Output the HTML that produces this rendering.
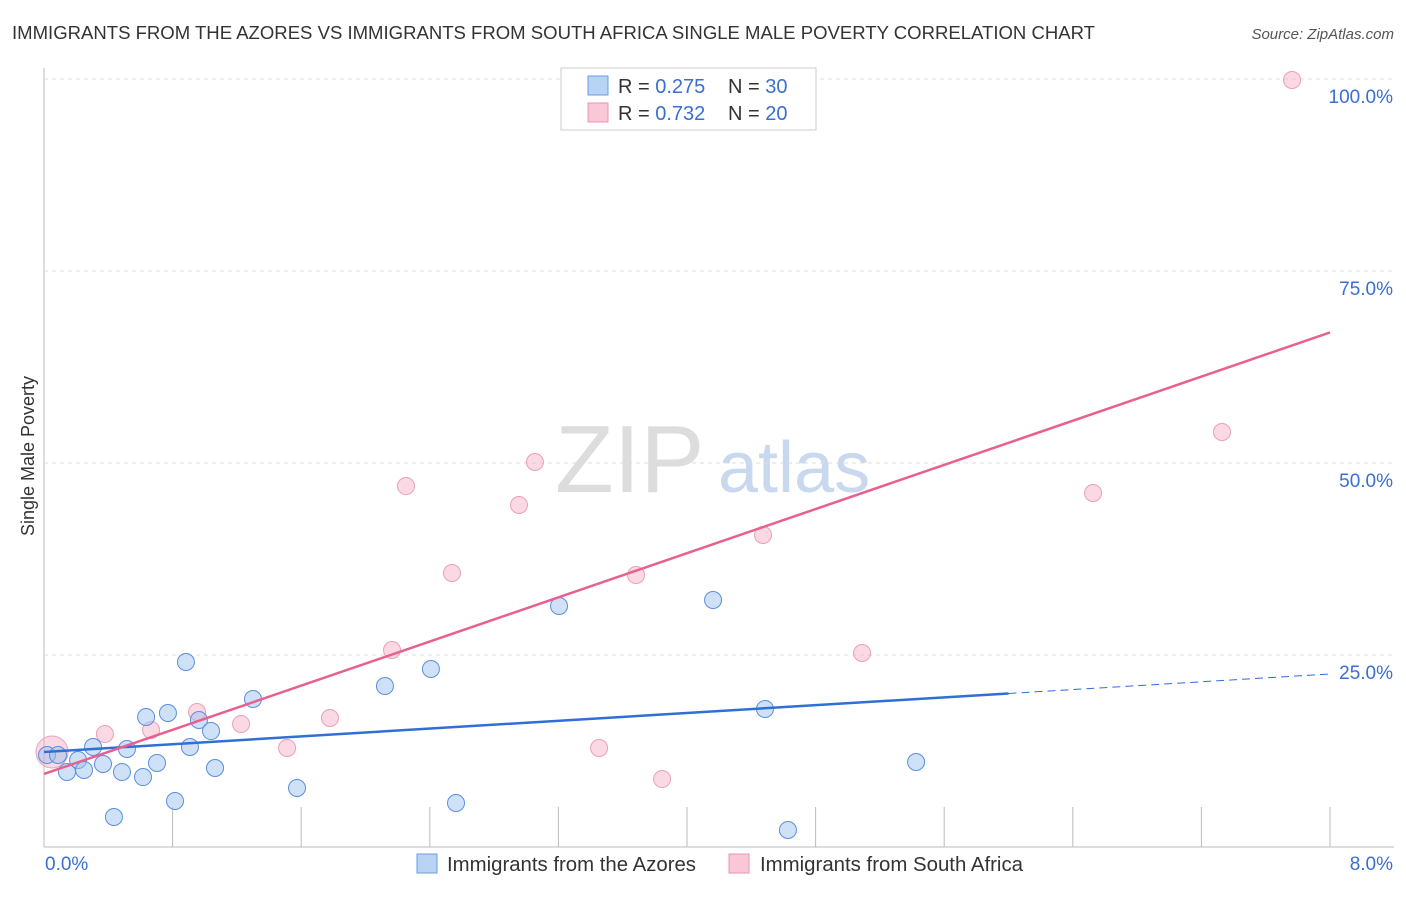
<!DOCTYPE html>
<html><head><meta charset="utf-8"><style>
body{margin:0;background:#fff;font-family:"Liberation Sans",sans-serif}
svg text{font-family:"Liberation Sans",sans-serif}
</style></head><body>
<svg id="c" width="1406" height="892">
<text x="12" y="39" font-size="18" fill="#333" textLength="1083" lengthAdjust="spacingAndGlyphs">IMMIGRANTS FROM THE AZORES VS IMMIGRANTS FROM SOUTH AFRICA SINGLE MALE POVERTY CORRELATION CHART</text>
<text x="1394" y="39" font-size="15" fill="#555" font-style="italic" text-anchor="end">Source: ZipAtlas.com</text>
<text x="34" y="456" font-size="18" fill="#333" text-anchor="middle" transform="rotate(-90 34 456)">Single Male Poverty</text>
<text x="555" y="492" font-size="96" fill="#ddd" font-family="Liberation Serif">ZIP</text>
<text x="718" y="492" font-size="72" fill="#c8d8ee">atlas</text>
<g id="grid"></g><g id="pts"></g><g id="lines"></g>
<rect x="561" y="68" width="255" height="62" fill="#fff" stroke="#ccc"/>
<rect x="588" y="76" width="20" height="19" fill="#b9d3f5" stroke="#6a9be0"/>
<rect x="588" y="103" width="20" height="19" fill="#f9c7d6" stroke="#e995ae"/>
<text x="618" y="93" font-size="20" fill="#333">R = <tspan fill="#3a6fd0">0.275</tspan></text>
<text x="728" y="93" font-size="20" fill="#333">N = <tspan fill="#3a6fd0">30</tspan></text>
<text x="618" y="120" font-size="20" fill="#333">R = <tspan fill="#3a6fd0">0.732</tspan></text>
<text x="728" y="120" font-size="20" fill="#333">N = <tspan fill="#3a6fd0">20</tspan></text>
<rect x="417" y="854" width="20" height="19" fill="#b9d3f5" stroke="#6a9be0"/>
<text x="447" y="871" font-size="20" fill="#333" textLength="249" lengthAdjust="spacingAndGlyphs">Immigrants from the Azores</text>
<rect x="729" y="854" width="20" height="19" fill="#f9c7d6" stroke="#e995ae"/>
<text x="760" y="871" font-size="20" fill="#333" textLength="263" lengthAdjust="spacingAndGlyphs">Immigrants from South Africa</text>
</svg>
<script>
const yTicks=[25,50,75,100];
const yTickLabels=["25.0%","50.0%","75.0%","100.0%"];
const xTickCount=10;
const blueX=[0.019,0.087,0.143,0.212,0.249,0.305,0.367,0.435,0.485,0.516,0.616,0.635,0.703,0.771,0.815,0.883,0.908,0.964,1.039,1.064,1.300,1.574,2.121,2.407,2.563,3.204,4.162,4.485,4.628,5.425];
const blueY=[11.98,11.98,9.77,11.33,10.03,13.02,10.81,3.91,9.77,12.76,9.11,16.93,10.94,17.45,5.99,24.09,13.02,16.54,15.10,10.29,19.27,7.68,20.96,23.18,5.73,31.38,32.16,17.97,2.21,11.07];
const pinkX=[0.05,0.379,0.666,0.952,1.226,1.512,1.779,2.165,2.252,2.538,2.955,3.054,3.453,3.683,3.845,4.473,5.089,6.526,7.328,7.764];
const pinkY=[12.37,14.71,15.23,17.58,16.02,12.89,16.80,25.65,47.0,35.68,44.53,50.13,12.89,35.42,8.85,40.63,25.26,46.09,54.04,99.87];
const blueLine=[12.37,22.53];
const pinkLine=[9.51,67.0];
const NS="http://www.w3.org/2000/svg";
const X=v=>44+v*160.75, Y=v=>847-v*7.68;
function mk(p,t,a){const e=document.createElementNS(NS,t);for(const k in a)e.setAttribute(k,a[k]);p.appendChild(e);return e;}
const g=document.getElementById('grid');
let ax=mk(g,'line',{x1:44,y1:68,x2:44,y2:847,stroke:'#bbb'});


ax=mk(g,'line',{x1:44,y1:847,x2:1394,y2:847,stroke:'#bbb'});


yTicks.forEach((t,i)=>{
 const l=mk(g,'line',{x1:44,x2:1394,y1:Y(t),y2:Y(t),stroke:'#ddd','stroke-dasharray':'4,4'});
 
 
 const tx=mk(g,'text',{x:1393,y:Y(t)+24,'font-size':19,fill:'#3a6fd0','text-anchor':'end'});
 tx.textContent=yTickLabels[i];
 
 
});
for(let i=1;i<=xTickCount;i++){
 const l=mk(g,'line',{x1:X(i*0.8),x2:X(i*0.8),y1:807,y2:847,stroke:'#bbb'});
 
 
}
let t=mk(g,'text',{x:45,y:870,'font-size':19,fill:'#3a6fd0'});t.textContent='0.0%';


t=mk(g,'text',{x:1393,y:870,'font-size':19,fill:'#3a6fd0','text-anchor':'end'});t.textContent='8.0%';


const P=document.getElementById('pts');
pinkX.forEach((x,i)=>{
 const c=mk(P,'circle',{cx:X(x),cy:Y(pinkY[i]),r:i==0?16:8.5,fill:'rgba(246,170,195,0.45)',stroke:'#eaa0b8'});
 
 
});
blueX.forEach((x,i)=>{
 const c=mk(P,'circle',{cx:X(x),cy:Y(blueY[i]),r:8.5,fill:'rgba(160,195,240,0.5)',stroke:'#5b8fdc'});
 
 
});
const L=document.getElementById('lines');
const by=x=>blueLine[0]+(blueLine[1]-blueLine[0])*x/8;
let ln=mk(L,'line',{x1:X(0),y1:Y(by(0)),x2:X(6),y2:Y(by(6)),stroke:'#2f6fd6','stroke-width':2.5});


ln=mk(L,'line',{x1:X(6),y1:Y(by(6)),x2:X(8),y2:Y(by(8)),stroke:'#2f6fd6','stroke-width':1,'stroke-dasharray':'8,5'});


ln=mk(L,'line',{x1:X(0),y1:Y(pinkLine[0]),x2:X(8),y2:Y(pinkLine[1]),stroke:'#e8608f','stroke-width':2.5});


</script>
</body></html>
